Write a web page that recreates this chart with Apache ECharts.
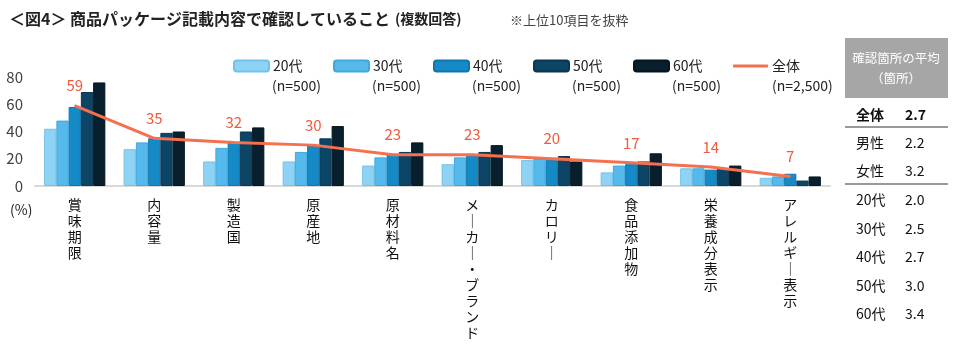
<!DOCTYPE html>
<html>
<head>
<meta charset="utf-8">
<script src="https://cdn.jsdelivr.net/npm/echarts@6/dist/echarts.min.js"></script>
<style>
  html, body { margin: 0; padding: 0; background: #fff; }
  #chart { width: 960px; height: 354px; }
</style>
</head>
<body>
<div id="chart"></div>
<script>
const categories = ['賞味期限', '内容量', '製造国', '原産地', '原材料名', 'メーカー・ブランド', 'カロリー', '食品添加物', '栄養成分表示', 'アレルギー表示']
const ageGroups = ['20代', '30代', '40代', '50代', '60代']
const sampleSizes = ['(n=500)', '(n=500)', '(n=500)', '(n=500)', '(n=500)', '(n=2,500)']
const age20 = [42, 27, 18, 18, 15, 16, 19, 10, 13, 6]
const age30 = [48, 32, 28, 25, 21, 21, 20, 15, 13, 7]
const age40 = [58, 35, 32, 30, 23, 23, 19, 16, 12, 9]
const age50 = [69, 39, 40, 35, 25, 25, 22, 18, 13, 4]
const age60 = [76, 40, 43, 44, 32, 30, 18, 24, 15, 7]
const totalValues = [59, 35, 32, 30, 23, 23, 20, 17, 14, 7]
const tableLabels = ['全体', '男性', '女性', '20代', '30代', '40代', '50代', '60代']
const tableValues = ['2.7', '2.2', '3.2', '2.0', '2.5', '2.7', '3.0', '3.4']

const font = '"Noto Sans CJK JP", "Noto Sans", sans-serif'
const barColors = ['#8ED3F4', '#55BAEB', '#1689C7', '#0C4566', '#081F2D']
const barBorders = ['#6FC3EC', '#3FA8DE', '#0F76AE', '#093752', '#05151F']
const lineColor = '#F4704F'
const ageData = [age20, age30, age40, age50, age60]

const chart = echarts.init(document.getElementById('chart'))

// legend: one per item so spacing is even
const legendNames = ageGroups.concat(['全体'])
const legends = legendNames.map((name, i) => {
  const isLine = name === '全体'
  return {
    data: [isLine ? { name: name, icon: 'roundRect' } : name],
    left: 233 + i * 100,
    top: 59,
    padding: 0,
    itemWidth: 35,
    itemHeight: isLine ? 3 : 11,
    itemGap: 4,
    textStyle: { fontFamily: font, fontSize: 14, color: '#222', padding: [0, 0, 0, -1] }
  }
})

const graphics = []
// sample size under each legend item
sampleSizes.forEach((t, i) => {
  graphics.push({
    type: 'text', left: 272 + i * 100, top: 79,
    style: { text: t, fontFamily: font, fontSize: 14, fill: '#222' }
  })
})
graphics.push({
  type: 'text', left: 10, top: 203,
  style: { text: '(%)', fontFamily: font, fontSize: 14, fill: '#222' }
})

// right-hand table
graphics.push({
  type: 'rect', shape: { x: 845, y: 38, width: 103, height: 60 },
  style: { fill: '#A6A6A6' }
})
graphics.push({
  type: 'text', x: 896, y: 68,
  style: { text: '確認箇所の平均\n（箇所）', fontFamily: font, fontSize: 12.5, lineHeight: 20,
    fill: '#fff', align: 'center', verticalAlign: 'middle' }
})
const rowY = [115, 143, 171, 200, 229, 257, 286, 314]
tableLabels.forEach((lab, i) => {
  const bold = i === 0 ? 'bold' : 'normal'
  graphics.push({
    type: 'text', x: 856, y: rowY[i],
    style: { text: lab, fontFamily: font, fontSize: 14, fontWeight: bold, fill: '#111', verticalAlign: 'middle' }
  })
  graphics.push({
    type: 'text', x: 905, y: rowY[i],
    style: { text: tableValues[i], fontFamily: font, fontSize: 14, fontWeight: bold, fill: '#111', verticalAlign: 'middle' }
  })
})
;[127, 184].forEach(y => {
  graphics.push({
    type: 'line', shape: { x1: 845, y1: y, x2: 948, y2: y },
    style: { stroke: '#999', lineWidth: 2 }
  })
})

const series = ageGroups.map((name, i) => ({
  name: name,
  type: 'bar',
  data: ageData[i],
  barGap: '0%',
  barCategoryGap: '23%',
  itemStyle: { color: barColors[i], borderColor: barBorders[i], borderWidth: 1 }
}))
series.push({
  name: '全体',
  type: 'line',
  data: totalValues,
  symbol: 'circle',
  symbolSize: 1,
  showSymbol: true,
  z: 5,
  lineStyle: { color: lineColor, width: 3 },
  itemStyle: { color: lineColor },
  label: {
    show: true, position: 'top', distance: 12,
    fontFamily: font, fontSize: 15, color: '#F4583A'
  }
})

const option = {
  animation: false,
  backgroundColor: '#fff',
  title: [
    {
      left: 4, top: 5,
      text: '{a|＜図4＞ 商品パッケージ記載内容で確認していること} {b|(複数回答)}',
      textStyle: {
        rich: {
          a: { fontFamily: font, fontSize: 16, fontWeight: 'bold', color: '#222' },
          b: { fontFamily: font, fontSize: 14, fontWeight: 'bold', color: '#222' }
        }
      }
    },
    {
      left: 505, top: 9,
      text: '※上位10項目を抜粋',
      textStyle: { fontFamily: font, fontSize: 13, fontWeight: 'normal', color: '#444' }
    }
  ],
  legend: legends,
  grid: { left: 35, right: 130, top: 77, bottom: 168 },
  xAxis: {
    type: 'category',
    data: categories,
    axisLine: { lineStyle: { color: '#D9D9D9', width: 2 } },
    axisTick: { show: false },
    axisLabel: {
      interval: 0,
      margin: 11,
      verticalAlign: 'top',
      fontFamily: font,
      fontSize: 14,
      lineHeight: 16,
      color: '#111',
      formatter: v => v.split('').map(c => (c === 'ー' ? '｜' : c)).join('\n')
    }
  },
  yAxis: {
    type: 'value',
    min: 0, max: 80, interval: 20,
    splitLine: { show: false },
    axisLine: { show: false },
    axisTick: { show: false },
    axisLabel: { margin: 12, fontFamily: font, fontSize: 15, color: '#404040' }
  },
  graphic: graphics,
  series: series
}

chart.setOption(option)
</script>
</body>
</html>
